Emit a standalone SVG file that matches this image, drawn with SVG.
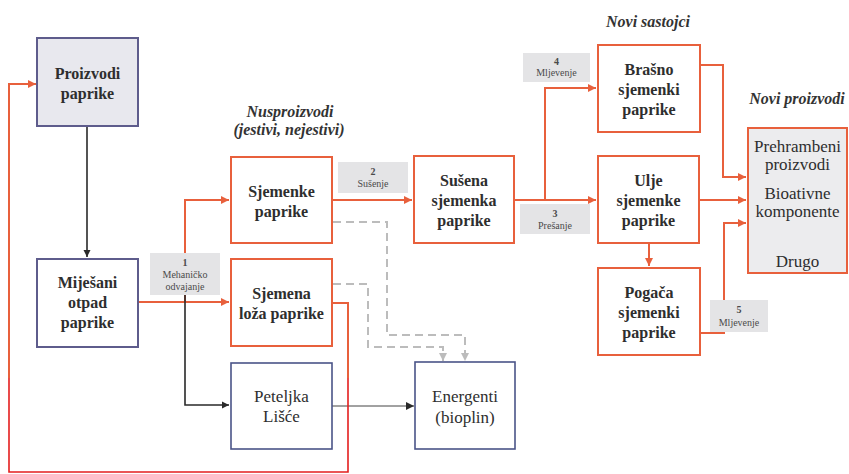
<svg xmlns="http://www.w3.org/2000/svg" width="849" height="474" viewBox="0 0 849 474">
<defs>
<style>
.bg{fill:#ffffff}
.pbox{fill:#e8e8ee;stroke:#5e5c8c;stroke-width:2}
.wbox{fill:#ffffff;stroke:#5e5c8c;stroke-width:2}
.nbox{fill:#ffffff;stroke:#4a5488;stroke-width:1.6}
.obox{fill:#ffffff;stroke:#e8603c;stroke-width:2}
.gobox{fill:#ececee;stroke:#e8603c;stroke-width:2}
.lbl{fill:#e4e4e6}
.t{fill:#2e2e2e;text-anchor:middle}
.tb{font-size:16px;font-weight:bold}
.tr{font-size:17px}
.tp{font-size:17px}
.ts{font-size:10px;fill:#4a4a4a}
.h{font-style:italic;font-weight:bold;font-size:16px;fill:#333;text-anchor:middle}
.or{fill:none;stroke:#e8603c;stroke-width:2}
.rd{fill:none;stroke:#e41e1e;stroke-width:1.6}
.bk{fill:none;stroke:#2a2a2a;stroke-width:1.6}
.thin{fill:none;stroke:#444;stroke-width:1}
.ds{fill:none;stroke:#bcbcbc;stroke-width:2;stroke-dasharray:8 5}
</style>
<marker id="ao" viewBox="0 0 8 8" refX="8" refY="4" markerWidth="4" markerHeight="4" orient="auto" markerUnits="strokeWidth"><path d="M0,0 L8,4 L0,8 z" fill="#e8603c"/></marker>
<marker id="ak" viewBox="0 0 8 8" refX="8" refY="4" markerWidth="4.5" markerHeight="4.5" orient="auto" markerUnits="strokeWidth"><path d="M0,0 L8,4 L0,8 z" fill="#2a2a2a"/></marker>
<marker id="at" viewBox="0 0 8 8" refX="8" refY="4" markerWidth="8" markerHeight="8" orient="auto" markerUnits="strokeWidth"><path d="M0,0 L8,4 L0,8 z" fill="#2a2a2a"/></marker>
<marker id="ag" viewBox="0 0 8 8" refX="8" refY="4" markerWidth="4" markerHeight="4" orient="auto" markerUnits="strokeWidth"><path d="M0,0 L8,4 L0,8 z" fill="#bcbcbc"/></marker>
</defs>
<rect class="bg" x="0" y="0" width="849" height="474"/>

<g font-family="'Liberation Serif', 'DejaVu Serif', 'Times New Roman', serif">
<g id="headings">
<text class="h" x="648" y="27">Novi sastojci</text>
<text class="h" x="290" y="117">Nusproizvodi</text>
<text class="h" x="289" y="135">(jestivi, nejestivi)</text>
<text class="h" x="797" y="104">Novi proizvodi</text>
</g>

<g id="connectors">
<path class="bk" d="M87,126 V257" marker-end="url(#ak)"/>
<path class="or" d="M138,302 H229" marker-end="url(#ao)"/>
<path class="or" d="M185,302 V200 H229" marker-end="url(#ao)"/>
<path class="bk" d="M185,295 V405 H229" marker-end="url(#ak)"/>
<path class="or" d="M332,200 H412" marker-end="url(#ao)"/>
<path class="or" d="M514,200 H596" marker-end="url(#ao)"/>
<path class="or" d="M545,200 V88 H596" marker-end="url(#ao)"/>
<path class="or" d="M700,65 H723 V177 H746" marker-end="url(#ao)"/>
<path class="or" d="M699,200 H746" marker-end="url(#ao)"/>
<path class="or" d="M700,333 H724 V223 H746" marker-end="url(#ao)"/>
<path class="or" d="M649,243 V266" marker-end="url(#ao)"/>
<path class="thin" d="M332,406 H414" marker-end="url(#at)"/>
<path class="ds" d="M333,222 H387 V335 H465 V361" marker-end="url(#ag)"/>
<path class="ds" d="M333,284 H368 V347 H443 V361" marker-end="url(#ag)"/>
<path class="or" d="M332,303 H348 V378"/>
<path class="rd" d="M348,378 V472 H9 V378"/>
<path class="or" d="M9,378 V84 H36" marker-end="url(#ao)"/>
</g>

<g id="n-proizvodi">
<rect class="pbox" x="37" y="38" width="101" height="88"/>
<text class="t tb" x="87.5" y="79">Proizvodi</text>
<text class="t tb" x="87.5" y="99">paprike</text>
</g>

<g id="n-mijesani">
<rect class="wbox" x="37" y="259" width="101" height="88"/>
<text class="t tb" x="87.5" y="288">Miješani</text>
<text class="t tb" x="87.5" y="308">otpad</text>
<text class="t tb" x="87.5" y="328">paprike</text>
</g>

<g id="l-1">
<rect class="lbl" x="150" y="253" width="70" height="42"/>
<text class="t ts" x="185" y="265.5" font-weight="bold">1</text>
<text class="t ts" x="185" y="277.5">Mehaničko</text>
<text class="t ts" x="185" y="289.5">odvajanje</text>
</g>

<g id="n-sjemenke">
<rect class="obox" x="231" y="157" width="101" height="86"/>
<text class="t tb" x="281.5" y="197">Sjemenke</text>
<text class="t tb" x="281.5" y="217">paprike</text>
</g>

<g id="n-sjemena">
<rect class="obox" x="231" y="259" width="101" height="87"/>
<text class="t tb" x="281.5" y="299">Sjemena</text>
<text class="t tb" x="281.5" y="319">loža paprike</text>
</g>

<g id="n-peteljka">
<rect class="nbox" x="231" y="363" width="101" height="86"/>
<text class="t tr" x="281.5" y="402">Peteljka</text>
<text class="t tr" x="281.5" y="422">Lišće</text>
</g>

<g id="n-energenti">
<rect class="nbox" x="415" y="362" width="100" height="87"/>
<text class="t tr" x="465" y="402">Energenti</text>
<text class="t tr" x="465" y="423">(bioplin)</text>
</g>

<g id="l-2">
<rect class="lbl" x="338" y="162" width="70" height="31"/>
<text class="t ts" x="373" y="175" font-weight="bold">2</text>
<text class="t ts" x="373" y="187">Sušenje</text>
</g>

<g id="n-susena">
<rect class="obox" x="414" y="156" width="100" height="87"/>
<text class="t tb" x="464" y="186">Sušena</text>
<text class="t tb" x="464" y="206">sjemenka</text>
<text class="t tb" x="464" y="226">paprike</text>
</g>

<g id="l-3">
<rect class="lbl" x="520" y="204" width="70" height="30"/>
<text class="t ts" x="555" y="217" font-weight="bold">3</text>
<text class="t ts" x="555" y="229">Prešanje</text>
</g>

<g id="l-4">
<rect class="lbl" x="523" y="53" width="67" height="29"/>
<text class="t ts" x="556.5" y="65" font-weight="bold">4</text>
<text class="t ts" x="556.5" y="76">Mljevenje</text>
</g>

<g id="n-brasno">
<rect class="obox" x="598" y="45" width="102" height="87"/>
<text class="t tb" x="649" y="75">Brašno</text>
<text class="t tb" x="649" y="95">sjemenki</text>
<text class="t tb" x="649" y="115">paprike</text>
</g>

<g id="n-ulje">
<rect class="obox" x="598" y="156" width="101" height="87"/>
<text class="t tb" x="648.5" y="186">Ulje</text>
<text class="t tb" x="648.5" y="206">sjemenke</text>
<text class="t tb" x="648.5" y="226">paprike</text>
</g>

<g id="n-pogaca">
<rect class="obox" x="598" y="268" width="102" height="87"/>
<text class="t tb" x="649" y="298">Pogača</text>
<text class="t tb" x="649" y="318">sjemenki</text>
<text class="t tb" x="649" y="338">paprike</text>
</g>

<g id="l-5">
<rect class="lbl" x="710" y="300" width="58" height="32"/>
<text class="t ts" x="739" y="313" font-weight="bold">5</text>
<text class="t ts" x="739" y="326">Mljevenje</text>
</g>

<g id="n-novi">
<rect class="gobox" x="748" y="128" width="99" height="145"/>
<text class="t tp" x="797.5" y="152">Prehrambeni</text>
<text class="t tp" x="797.5" y="170">proizvodi</text>
<text class="t tp" x="797.5" y="199">Bioativne</text>
<text class="t tp" x="797.5" y="217">komponente</text>
<text class="t tp" x="797.5" y="267">Drugo</text>
</g>
</g>
</svg>
